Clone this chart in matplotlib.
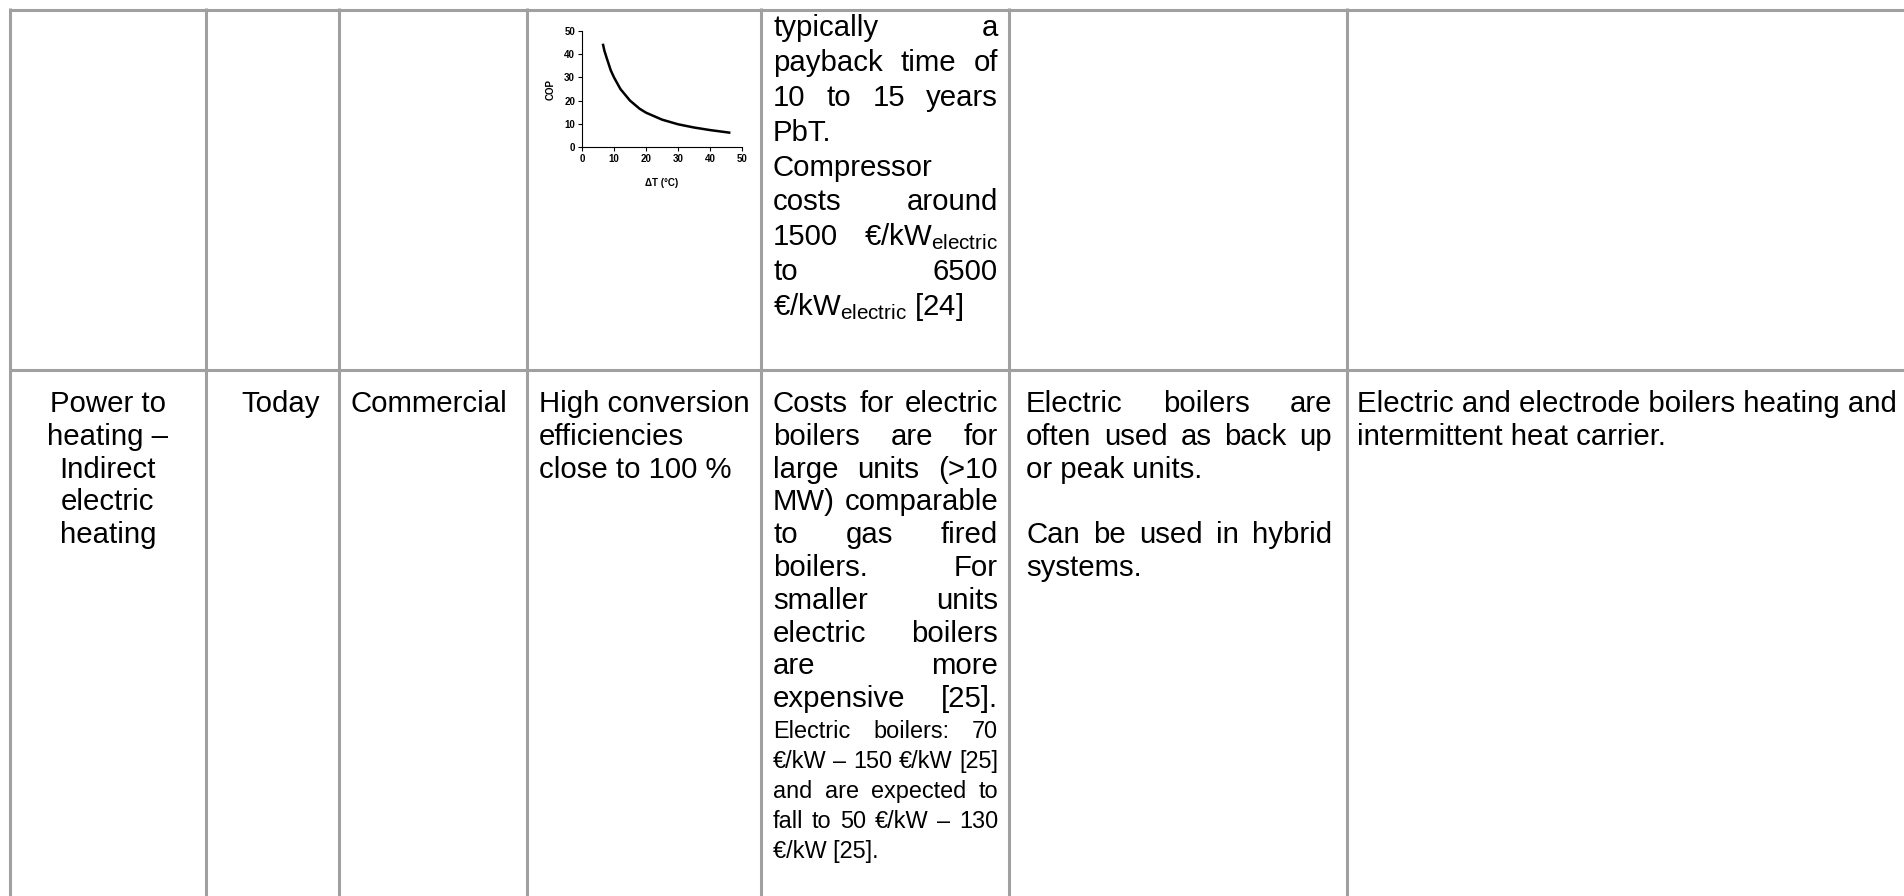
import matplotlib
matplotlib.use("Agg")
import matplotlib.pyplot as plt

plt.rcParams["font.family"] = ["Liberation Sans", "DejaVu Sans"]

W, H = 1904, 896

# COP curve of the small inset
delta_t = [6.6, 7, 7.8, 9, 10, 12, 15, 18, 20, 25, 30, 35, 40, 46]
cop = [44, 41.5, 38, 33, 30, 25, 20, 16.5, 14.8, 11.8, 9.8, 8.4, 7.3, 6.2]
inset_ticks = [0, 10, 20, 30, 40, 50]

# table text
tech = ["Power to", "heating –", "Indirect", "electric", "heating"]
timeframe = "Today"
status = "Commercial"
efficiency = ["High conversion", "efficiencies", "close to 100 %"]
cost_top = ["typically a", "payback time of", "10 to 15 years", "PbT.", "Compressor",
            "costs around", r"1500 €/kW$_\mathregular{electric}$", "to 6500",
            r"€/kW$_\mathregular{electric}$ [24]"]
cost_top_just = [1, 1, 1, 0, 0, 1, 1, 1, 0]
cost_main = ["Costs for electric", "boilers are for", "large units (>10", "MW) comparable",
             "to gas fired", "boilers. For", "smaller units", "electric boilers",
             "are more", "expensive [25]."]
cost_small = ["Electric boilers: 70", "€/kW – 150 €/kW [25]", "and are expected to",
              "fall to 50 €/kW – 130", "€/kW [25]."]
cost_small_just = [1, 1, 1, 1, 0]
use_lines = ["Electric boilers are", "often used as back up", "or peak units.", "",
             "Can be used in hybrid", "systems."]
use_just = [1, 1, 0, 0, 1, 0]
desc = ["Electric and electrode boilers heating and", "intermittent heat carrier."]

# layout in pixels
col_x = [10, 206, 339, 527, 761, 1009, 1347]
sep_y = 370
grid_col = "#a0a0a0"
fs, fs_small = 21.2, 16.9
pitch, pitch_small = 32.8, 30

fig = plt.figure(figsize=(W / 100, H / 100), dpi=100)
ax = fig.add_axes([0, 0, 1, 1])
ax.set_xlim(0, W)
ax.set_ylim(H, 0)
ax.axis("off")
renderer = fig.canvas.get_renderer()

# grid
for x in col_x:
    ax.plot([x, x], [8, H], color=grid_col, lw=2.2, solid_capstyle="butt")
for y in [10, sep_y]:
    ax.plot([col_x[0], W], [y, y], color=grid_col, lw=2.2, solid_capstyle="butt")


def put_line(text, x0, x1, y, size, justify):
    words = text.split(" ")
    if not justify or len(words) == 1:
        ax.text(x0, y, text, fontsize=size, va="baseline", ha="left")
        return
    objs = [ax.text(0, y, w, fontsize=size, va="baseline", ha="left") for w in words]
    widths = [o.get_window_extent(renderer).width for o in objs]
    gap = (x1 - x0 - sum(widths)) / (len(words) - 1)
    x = x0
    for o, w in zip(objs, widths):
        o.set_x(x)
        x += w + gap


# row 1, cost column (continued from previous page)
for i, (t, j) in enumerate(zip(cost_top, cost_top_just)):
    put_line(t, 773, 998, 36 + i * 34.9, fs, j)

# row 2
y0 = 412
for i, t in enumerate(tech):
    ax.text((col_x[0] + col_x[1]) / 2, y0 + i * pitch, t, fontsize=fs,
            va="baseline", ha="center")
ax.text(241, y0, timeframe, fontsize=fs, va="baseline")
ax.text(350, y0, status, fontsize=fs, va="baseline")
for i, t in enumerate(efficiency):
    put_line(t, 539, 750, y0 + i * pitch, fs, False)
for i, t in enumerate(cost_main):
    put_line(t, 773, 998, y0 + i * pitch, fs, True)
for i, (t, j) in enumerate(zip(cost_small, cost_small_just)):
    put_line(t, 773, 998, 738 + i * pitch_small, fs_small, j)
for i, (t, j) in enumerate(zip(use_lines, use_just)):
    if t:
        put_line(t, 1026, 1332, y0 + i * pitch, fs, j)
for i, t in enumerate(desc):
    ax.text(1357, y0 + i * pitch, t, fontsize=fs, va="baseline", clip_on=False)

# small COP inset in row 1
ins = fig.add_axes([582 / W, 1 - 147 / H, 160 / W, 116 / H])
ins.plot(delta_t, cop, color="black", lw=1.8)
ins.set_xlim(0, 50)
ins.set_ylim(0, 50)
ins.set_xticks(inset_ticks)
ins.set_yticks(inset_ticks)
ins.spines[["top", "right"]].set_visible(False)
ins.spines[["left", "bottom"]].set_linewidth(0.8)
ins.tick_params(labelsize=7, length=3, width=0.8, pad=2)
for lbl in ins.get_xticklabels() + ins.get_yticklabels():
    lbl.set_fontweight("bold")
ins.set_xlabel("ΔT (°C)", fontsize=7, fontweight="bold", labelpad=10)
ins.set_ylabel("COP", fontsize=7, fontweight="bold", labelpad=6)
ins.patch.set_alpha(0)

fig.savefig("out.png", dpi=100)
